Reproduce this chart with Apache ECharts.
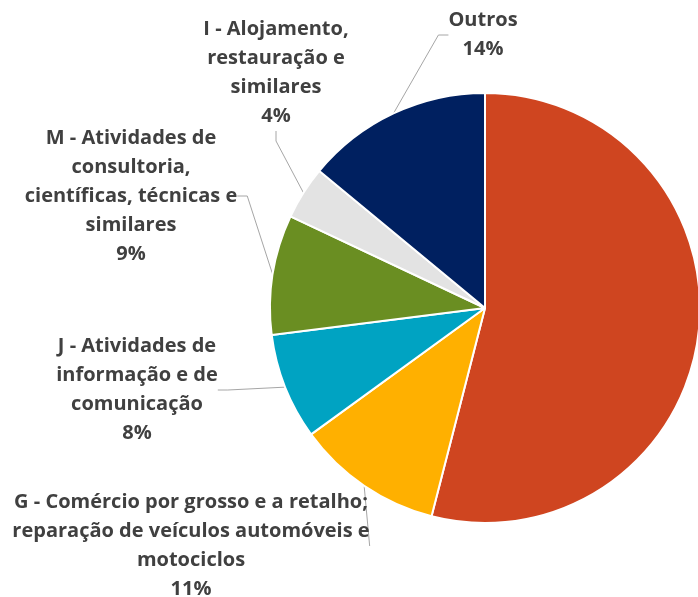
<!DOCTYPE html>
<html>
<head>
<meta charset="utf-8">
<script src="https://cdn.jsdelivr.net/npm/echarts@6/dist/echarts.min.js"></script>
<style>
    html, body { margin: 0; padding: 0; background: #fff; }
    #chart { width: 698px; height: 597px; }
</style>
</head>
<body>
<div id="chart"></div>
<script>
// setores (ordem dos ponteiros do relógio, a partir do topo)
var sectors = [
    '',
    'G - Comércio por grosso e a retalho;\nreparação de veículos automóveis e\nmotociclos',
    'J - Atividades de\ninformação e de\ncomunicação',
    'M - Atividades de\nconsultoria,\ncientíficas, técnicas e\nsimilares',
    'I - Alojamento,\nrestauração e\nsimilares',
    'Outros'
]
var shares = [54, 11, 8, 9, 4, 14]
var colors = ['#CF4520', '#FFB000', '#00A3C2', '#6A8E22', '#E3E3E3', '#002060']

// centro de cada rótulo (px)
var labelSpots = [null, [191, 546], [137, 390], [131, 196], [276, 73], [483, 35]]

var pieData = []
for (var i = 0; i < shares.length; i++) {
    pieData.push({
        name: sectors[i],
        value: shares[i],
        itemStyle: { color: colors[i] },
        label: { show: i > 0 },
        labelLine: { show: i > 0 }
    })
}

var option = {
    backgroundColor: '#fff',
    animation: false,
    series: [{
        type: 'pie',
        center: [485, 308],
        radius: 215,
        startAngle: 90,
        clockwise: true,
        data: pieData,
        itemStyle: {
            borderColor: '#fff',
            borderWidth: 2
        },
        label: {
            formatter: '{b}\n{c}%',
            fontFamily: 'Open Sans',
            fontWeight: 'bold',
            fontSize: 20,
            lineHeight: 29,
            color: '#404040',
            align: 'center',
            overflow: 'none'
        },
        labelLine: {
            length: 20,
            length2: 10,
            lineStyle: { color: '#A6A6A6', width: 1 }
        },
        labelLayout: function(params) {
            var p = labelSpots[params.dataIndex]
            if (!p) return {}
            return {
                x: p[0],
                y: p[1],
                align: 'center',
                verticalAlign: 'middle'
            }
        }
    }]
}
echarts.init(document.getElementById('chart')).setOption(option)
</script>
</body>
</html>
